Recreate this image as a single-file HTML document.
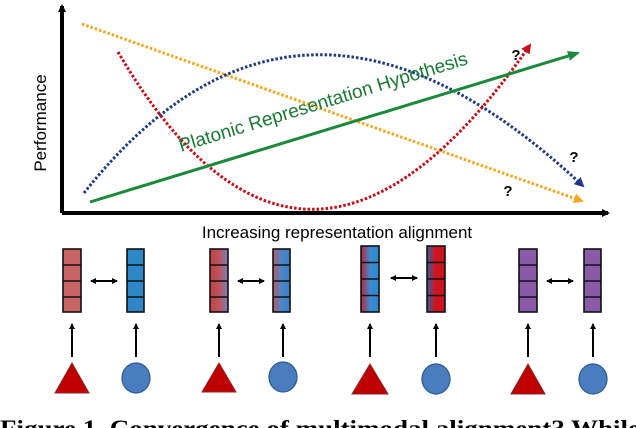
<!DOCTYPE html>
<html><head><meta charset="utf-8"><style>
html,body{margin:0;padding:0;background:#fff;overflow:hidden;width:636px;height:428px}
svg{display:block}
</style></head><body>
<svg width="636" height="428" viewBox="0 0 636 428" xmlns="http://www.w3.org/2000/svg">
<defs>
<marker id="ak" markerWidth="8" markerHeight="8" refX="6" refY="4" orient="auto" markerUnits="userSpaceOnUse"><path d="M0,0 L8,4 L0,8 Z" fill="#000"/></marker>
<marker id="akS" markerWidth="6" markerHeight="6" refX="5" refY="3" orient="auto-start-reverse" markerUnits="userSpaceOnUse"><path d="M0,0 L6,3 L0,6 Z" fill="#000"/></marker>
<marker id="ag" markerWidth="12" markerHeight="10" refX="10" refY="5" orient="auto" markerUnits="userSpaceOnUse"><path d="M0,0 L12,5 L0,10 Z" fill="#1a8a3a"/></marker>
<marker id="ay" markerWidth="10" markerHeight="10" refX="8" refY="5" orient="auto" markerUnits="userSpaceOnUse"><path d="M0,0 L10,5 L0,10 Z" fill="#f5a81c"/></marker>
<marker id="ab" markerWidth="10" markerHeight="10" refX="8" refY="5" orient="auto" markerUnits="userSpaceOnUse"><path d="M0,0 L10,5 L0,10 Z" fill="#1c3a8a"/></marker>
<marker id="ar" markerWidth="10" markerHeight="10" refX="8" refY="5" orient="auto" markerUnits="userSpaceOnUse"><path d="M0,0 L10,5 L0,10 Z" fill="#cc0a12"/></marker>
<linearGradient id="g1" x1="0" x2="1"><stop offset="0" stop-color="#c0454a"/><stop offset="0.5" stop-color="#c0525a"/><stop offset="1" stop-color="#7a7fbf"/></linearGradient>
<linearGradient id="g2" x1="0" x2="1"><stop offset="0" stop-color="#b85a6a"/><stop offset="0.5" stop-color="#4a86c8"/><stop offset="1" stop-color="#3a80c8"/></linearGradient>
<linearGradient id="g3" x1="0" x2="1"><stop offset="0" stop-color="#c0203a"/><stop offset="0.5" stop-color="#3c8ad0"/><stop offset="1" stop-color="#2c8ad0"/></linearGradient>
<linearGradient id="g4" x1="0" x2="1"><stop offset="0" stop-color="#2c60a8"/><stop offset="0.45" stop-color="#d0141e"/><stop offset="1" stop-color="#c8141e"/></linearGradient>
</defs>
<line x1="62" y1="213" x2="62" y2="6" stroke="#000" stroke-width="4" marker-end="url(#ak)"/>
<line x1="62" y1="213" x2="608" y2="213" stroke="#000" stroke-width="4" marker-end="url(#ak)"/>
<text x="46" y="123" font-family="Liberation Sans, sans-serif" font-size="17" text-anchor="middle" transform="rotate(-90 46 123)">Performance</text>
<text x="337" y="238" font-family="Liberation Sans, sans-serif" font-size="17" text-anchor="middle">Increasing representation alignment</text>
<line x1="82" y1="24" x2="582" y2="201" stroke="#f5a81c" stroke-width="3" stroke-dasharray="2.5,2" marker-end="url(#ay)"/>
<path d="M84,193 Q300,-80 583,186" fill="none" stroke="#1c3a8a" stroke-width="3" stroke-dasharray="2.5,2" marker-end="url(#ab)"/>
<path d="M118,52 Q305,370 530,45" fill="none" stroke="#cc0a12" stroke-width="3" stroke-dasharray="2.5,2" marker-end="url(#ar)"/>
<line x1="90" y1="202" x2="578" y2="53" stroke="#1a8a3a" stroke-width="3" marker-end="url(#ag)"/>
<text x="181" y="152" font-family="Liberation Sans, sans-serif" font-size="19" fill="#1a7a35" transform="rotate(-17 181 152)">Platonic Representation Hypothesis</text>
<g font-family="Liberation Sans, sans-serif" font-size="15" font-weight="bold" text-anchor="middle">
<text x="516" y="60">?</text><text x="574" y="162">?</text><text x="508" y="196">?</text>
</g>
<g stroke="#111" stroke-width="1.6">
<rect x="63" y="249" width="18" height="63" fill="#c86464"/>
<rect x="127" y="249" width="17" height="63" fill="#2c86c8"/>
<rect x="210" y="249" width="18" height="63" fill="url(#g1)"/>
<rect x="273" y="249" width="17" height="63" fill="url(#g2)"/>
<rect x="361" y="246" width="18" height="66" fill="url(#g3)"/>
<rect x="427" y="246" width="18" height="66" fill="url(#g4)"/>
<rect x="519" y="249" width="18" height="63" fill="#8a5aa8"/>
<rect x="584" y="249" width="17" height="63" fill="#8a5aa8"/>
</g>
<g stroke="#111" stroke-width="1.4">
<path d="M63,265h18M63,281h18M63,297h18M127,265h17M127,281h17M127,297h17M210,265h18M210,281h18M210,297h18M273,265h17M273,281h17M273,297h17M361,262.5h18M361,279h18M361,295.5h18M427,262.5h18M427,279h18M427,295.5h18M519,265h18M519,281h18M519,297h18M584,265h17M584,281h17M584,297h17"/>
</g>
<g stroke="#000" stroke-width="2">
<line x1="91" y1="281" x2="117" y2="281" marker-start="url(#akS)" marker-end="url(#akS)"/>
<line x1="238" y1="281" x2="264" y2="281" marker-start="url(#akS)" marker-end="url(#akS)"/>
<line x1="391" y1="278" x2="417" y2="278" marker-start="url(#akS)" marker-end="url(#akS)"/>
<line x1="547" y1="281" x2="573" y2="281" marker-start="url(#akS)" marker-end="url(#akS)"/>
<line x1="72" y1="357" x2="72" y2="324" marker-end="url(#akS)"/>
<line x1="136" y1="357" x2="136" y2="324" marker-end="url(#akS)"/>
<line x1="219" y1="357" x2="219" y2="324" marker-end="url(#akS)"/>
<line x1="283" y1="357" x2="283" y2="324" marker-end="url(#akS)"/>
<line x1="370" y1="357" x2="370" y2="324" marker-end="url(#akS)"/>
<line x1="436" y1="357" x2="436" y2="324" marker-end="url(#akS)"/>
<line x1="528" y1="357" x2="528" y2="324" marker-end="url(#akS)"/>
<line x1="593" y1="357" x2="593" y2="324" marker-end="url(#akS)"/>
</g>
<g fill="#c00000" stroke="#8a2a2a" stroke-width="1">
<path d="M72,363 L89,393 L55,393 Z"/>
<path d="M219,363 L236,392 L202,392 Z"/>
<path d="M370,364 L388,394 L352,394 Z"/>
<path d="M528,364 L545,394 L511,394 Z"/>
</g>
<g fill="#4a7cc0" stroke="#2c5a90" stroke-width="1.2">
<ellipse cx="136" cy="378" rx="14" ry="15"/>
<ellipse cx="283" cy="377" rx="14" ry="15"/>
<ellipse cx="436" cy="379" rx="14" ry="15"/>
<ellipse cx="593" cy="379" rx="14" ry="15"/>
</g>
<text x="0" y="436" font-family="Liberation Serif, serif" font-size="23" font-weight="bold" fill="#000" textLength="640" lengthAdjust="spacingAndGlyphs">Figure 1. Convergence of multimodal alignment? While</text>
</svg>
</body></html>
